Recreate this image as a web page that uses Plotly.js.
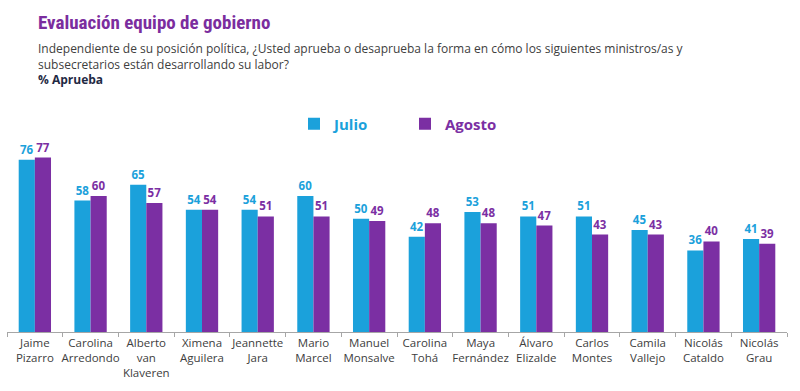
<!DOCTYPE html>
<html><head><meta charset="utf-8">
<script src="https://cdn.plot.ly/plotly-3.0.1.min.js"></script>
<style>body{margin:0;background:#fff}#c{width:800px;height:391px}</style>
</head><body><div id="c"></div>
<script>
const categories = ["Jaime<br>Pizarro","Carolina<br>Arredondo","Alberto<br>van<br>Klaveren","Ximena<br>Aguilera","Jeannette<br>Jara","Mario<br>Marcel","Manuel<br>Monsalve","Carolina<br>Tohá","Maya<br>Fernández","Álvaro<br>Elizalde","Carlos<br>Montes","Camila<br>Vallejo","Nicolás<br>Cataldo","Nicolás<br>Grau"];
const julio  = [76,58,65,54,54,60,50,42,53,51,51,45,36,41];
const agosto = [77,60,57,54,51,51,49,48,48,47,43,43,40,39];
const blue = "#1BA1DB", purple = "#7B2FA3";
const font = "Open Sans, Lato, sans-serif";
const traces = [
 {type:"bar", name:"Julio", x:categories, y:julio, marker:{color:blue},
  text:julio.map(String), textposition:"outside", cliponaxis:false,
  textfont:{color:blue, size:11.5, family:font, weight:"bold"}},
 {type:"bar", name:"Agosto", x:categories, y:agosto, marker:{color:purple},
  text:agosto.map(String), textposition:"outside", cliponaxis:false,
  textfont:{color:purple, size:11.5, family:font, weight:"bold"}}
];
const plotTop = 110, plotBottom = 332, ph = plotBottom - plotTop;
const py = (pix) => (plotBottom - pix) / ph;
const layout = {
 width:800, height:391, paper_bgcolor:"#fff", plot_bgcolor:"#fff",
 margin:{l:7, r:13, t:plotTop, b:391-plotBottom},
 barmode:"group", bargap:0.42, bargroupgap:0,
 font:{family:font, color:"#404040"},
 title:{text:"Evaluación equipo de gobierno", x:38/800, xanchor:"left", y:1-22/391, yanchor:"middle",
   font:{size:19, color:"#7B2D9E", family:"Liberation Sans Narrow, Roboto Condensed, Roboto, sans-serif", weight:"bold"}},
 xaxis:{type:"category", showline:true, linecolor:"#A6A6A6", linewidth:1,
   ticks:"outside", tickson:"boundaries", ticklen:4, tickcolor:"#A6A6A6", tickangle:0,
   tickfont:{size:11.5, color:"#404040", family:font}, fixedrange:true},
 yaxis:{range:[0,98], visible:false, showgrid:false, zeroline:false},
 showlegend:true,
 legend:{orientation:"h", x:(294-7)/780, y:py(124), xanchor:"left", yanchor:"middle",
   font:{size:15, family:font, weight:"bold"}, entrywidth:66, entrywidthmode:"pixels",
   traceorder:"normal", itemwidth:30},
 annotations:[
  {xref:"paper", yref:"paper", x:(36-7)/780, xanchor:"left", y:py(38), yanchor:"top", showarrow:false,
   align:"left", text:"Independiente de su posición política, ¿Usted aprueba o desaprueba la forma en cómo los siguientes ministros/as y<br>subsecretarios están desarrollando su labor?<br><b><span style=\"color:#1F2A44\">% Aprueba</span></b>",
   font:{size:12, color:"#404040", family:font}}
 ]
};
Plotly.newPlot("c", traces, layout, {displayModeBar:false, staticPlot:true}).then(()=>{
  document.querySelectorAll(".legendtext").forEach((t,i)=>{ t.style.fill = i===0?blue:purple; });
});
</script></body></html>
